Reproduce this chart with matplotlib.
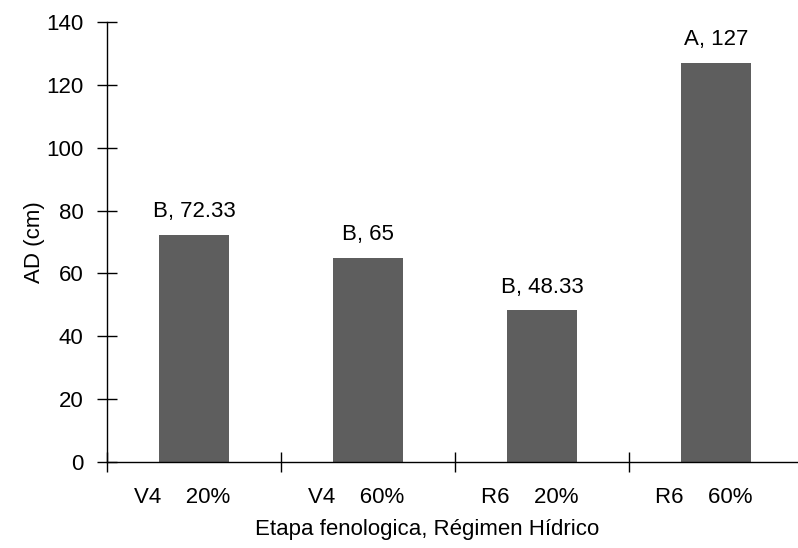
import numpy as np
import matplotlib.pyplot as plt

plt.rcParams['font.family'] = ['Liberation Sans', 'DejaVu Sans']

etapas = ["V4", "V4", "R6", "R6"]
regimen = ["20%", "60%", "20%", "60%"]
valores = [72.33, 65, 48.33, 127]
letras = ["B", "B", "B", "A"]

fig = plt.figure(figsize=(7.98, 5.48), dpi=100)
ax = fig.add_axes([107 / 798, 86 / 548, 691 / 798, 440 / 548])

x = np.arange(len(valores))
ax.bar(x, valores, width=0.4, color="#5e5e5e")

for xi, v, l in zip(x, valores, letras):
    ax.text(xi, v + 4, f"{l}, {v:g}", ha="center", va="bottom", fontsize=16)

ax.set_xlim(-0.5, 3.5 - 5 / 174)
ax.set_ylim(0, 140)
ax.set_yticks(np.arange(0, 141, 20))
ax.tick_params(axis="y", direction="inout", length=14, width=1, labelsize=16, pad=10)

# category boundaries as minor ticks, labels placed under the bars
ax.set_xticks(np.arange(-0.5, 3.5, 1.0), minor=True)
ax.set_xticks(x)
ax.set_xticklabels([])
ax.tick_params(axis="x", which="major", length=0)
ax.tick_params(axis="x", which="minor", direction="inout", length=14, width=1)
for xi, e, r in zip(x, etapas, regimen):
    ax.text(xi - 0.07, -0.08, f"{e}    {r}", transform=ax.get_xaxis_transform(),
            ha="center", va="center", fontsize=16)

for s in ["top", "right"]:
    ax.spines[s].set_visible(False)
ax.spines["left"].set_linewidth(1)
ax.spines["bottom"].set_linewidth(1)

ax.set_ylabel("AD (cm)", fontsize=16)
ax.yaxis.set_label_coords(-0.09, 0.5)
ax.set_xlabel("Etapa fenologica, Régimen Hídrico", fontsize=16)
ax.xaxis.set_label_coords(0.463, -0.13)

fig.savefig("out.png", dpi=100)
